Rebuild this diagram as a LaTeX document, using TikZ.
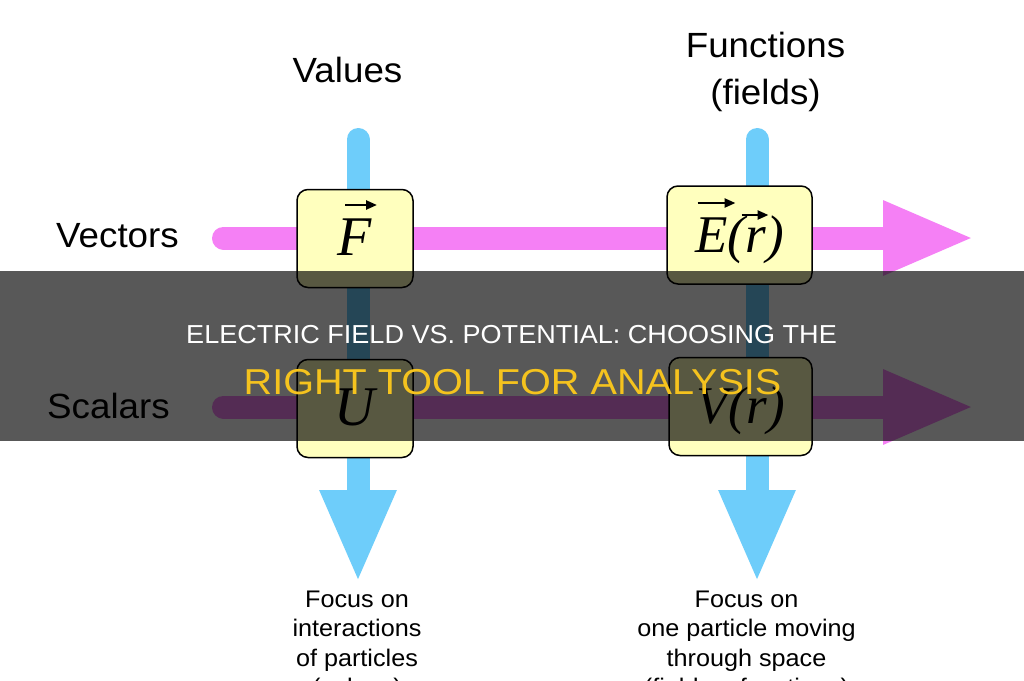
\documentclass[tikz,border=0pt]{standalone}
\usepackage{fontspec}
\usetikzlibrary{arrows.meta,backgrounds}
\setmainfont{Liberation Sans}[FakeStretch=1.05]
\newfontfamily\ttlfontA{Liberation Sans}[FakeStretch=1.04]
\newfontfamily\ttlfontB{Liberation Sans}[FakeStretch=1.1]
\newfontfamily\tms{Liberation Serif}
\newcommand\fsz[1]{\fontsize{#1}{#1}\selectfont}
\definecolor{cblue}{RGB}{110,205,250}
\definecolor{cpink}{RGB}{245,128,245}
\definecolor{cbox}{RGB}{255,255,190}
\definecolor{ctitle}{RGB}{245,195,30}
\begin{document}
\begin{tikzpicture}[x=1pt,y=-1pt,
  mbox/.style={draw=black, line width=1.5pt, fill=cbox, rounded corners=11pt,
    minimum width=116pt, minimum height=98pt, inner sep=0pt,
    text height=60pt, text depth=26pt, font=\tms\itshape\fsz{56}},
  vline/.style={cblue, line width=23pt, line cap=round, -{Triangle[width=70pt,length=93pt]}},
  hline/.style={cpink, line width=23pt, line cap=round, -{Triangle[width=68pt,length=92pt]}},
  vecarr/.style={black, line width=2.4pt, -{Triangle[length=11pt,width=9pt]}},
  lab/.style={font=\fsz{35}, inner sep=0pt},
  note/.style={font=\fontsize{24}{29.5}\selectfont, align=center, inner sep=0pt, anchor=north},
]
\useasboundingbox (0,0) rectangle (1024,680);
\clip (0,0) rectangle (1024,680);

% boxes
\node[mbox] (F) at (355,238.5) {F};
\node[mbox, minimum width=145pt, font=\tms\itshape\fsz{53}] (E) at (739.5,235) {E(r)};
\node[mbox] (U) at (355,408.5) {U};
\node[mbox, minimum width=143pt, font=\tms\itshape\fsz{53}] (V) at (740.5,406.5) {V(r)};

% vector arrows over the letters
\draw[vecarr] ([shift={(-10,-33.5)}]F.center) -- ([shift={(22,-33.5)}]F.center);
\draw[vecarr] ([shift={(-42,-32)}]E.center) -- ([shift={(-4,-32)}]E.center);
\draw[vecarr] ([shift={(2,-20)}]E.center) -- ([shift={(29,-20)}]E.center);

% connectors behind the boxes
\coordinate (tL) at (358,139.5);
\coordinate (bL) at (358,583);
\coordinate (tR) at (757,139.5);
\coordinate (bR) at (757,583);
\coordinate (hV) at (223.5,238);
\coordinate (eV) at (975,238);
\coordinate (hS) at (223.5,407);
\coordinate (eS) at (975,407);
\begin{scope}[on background layer]
  \fill[white] (0,0) rectangle (1024,680);
  \draw[vline] (tL) -- (bL);
  \draw[vline] (tR) -- (bR);
  \draw[hline] (hV) -- (eV);
  \draw[hline] (hS) -- (eS);
\end{scope}

% labels
\node[lab, anchor=base] (values) at (347.5,82) {Values};
\node[lab, align=center, anchor=north, font=\fontsize{35}{47}\selectfont] (func) at (765.5,32) {Functions\\(fields)};
\node[lab, anchor=base] (vec) at (117.5,247) {Vectors};
\node[lab, anchor=base] (sca) at (108.5,418) {Scalars};
\node[note] (nL) at (357,590.5) {Focus on\\interactions\\of particles\\(values)};
\node[note] (nR) at (746.5,590.5) {Focus on\\one particle moving\\through space\\(fields = functions)};

% banner overlay
\node[fill=black, fill opacity=0.655, minimum width=1024pt, minimum height=170pt, inner sep=0pt, draw=none] (banner) at (512,356) {};
\node[anchor=base, text=white, font=\ttlfontA\fsz{26}, inner sep=0pt] (t1) at (511.5,343) {ELECTRIC FIELD VS. POTENTIAL: CHOOSING THE};
\node[anchor=base, text=ctitle, font=\ttlfontB\fsz{36}, inner sep=0pt] (t2) at (512.5,394) {RIGHT TOOL FOR ANALYSIS};
\end{tikzpicture}
\end{document}
